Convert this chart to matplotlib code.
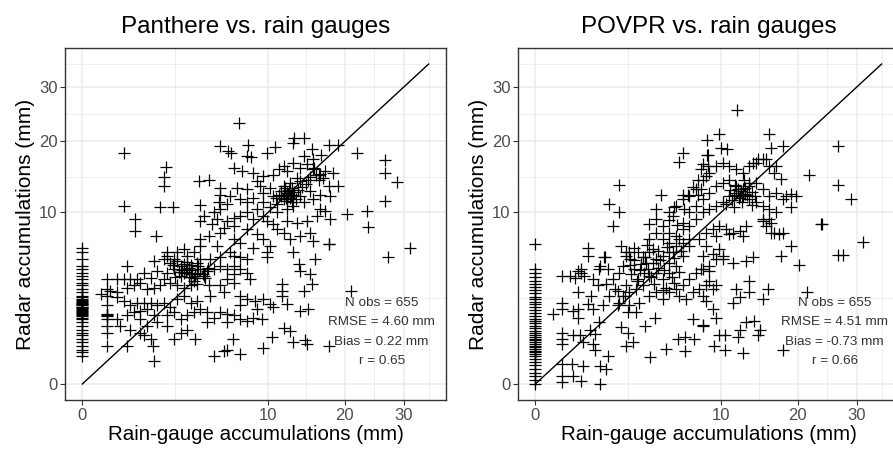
import numpy as np
import matplotlib.pyplot as plt

plt.rcParams['font.family'] = ['Liberation Sans', 'DejaVu Sans']

# (rain gauge mm, radar mm)
panthere_pts = [
    (7.1, 23.2), (0.5, 18.2), (5.5, 19.2), (6.2, 18.4), (6.4, 18.2), (8.0, 19.5), (7.9, 17.7), (8.25, 17.55),
    (9.9, 18.2), (10.8, 19.1), (13.0, 20.6), (14.2, 20.6), (12.9, 19.7), (15.3, 18.7), (16.5, 17.9),
    (17.6, 19.35), (19.0, 19.35), (21.9, 18.2), (26.6, 17.05),
    (26.6, 15.2), (28.7, 13.9), (2.04, 16.0), (1.93, 14.55), (1.93, 13.3), (3.93, 14.0), (4.64, 14.2),
    (6.65, 15.9), (7.4, 15.4), (8.5, 15.2), (9.5, 14.7), (8.85, 14.0), (10.6, 14.9), (11.2, 15.65),
    (11.75, 16.15), (12.1, 15.4), (12.9, 16.6), (13.8, 15.9), (14.6, 16.4), (15.5, 15.65), (16.2, 14.9),
    (17.1, 15.4), (18.3, 15.2), (14.8, 14.2), (13.4, 14.45), (12.5, 13.8), (11.75, 13.3), (10.25, 13.1),
    (9.2, 13.3), (7.9, 12.9), (6.9, 13.1), (5.5, 13.1), (16.2, 14.2), (17.6, 13.3), (15.5, 17.15),
    (14.2, 17.7), (19.0, 13.3),
    (26.6, 11.4), (20.3, 9.8), (23.5, 10.2), (23.7, 8.4), (1.77, 10.7), (2.39, 10.7), (0.5, 10.8),
    (4.05, 10.9), (4.28, 9.6), (4.05, 9.05), (5.0, 10.0), (5.5, 10.4), (6.07, 11.0), (5.5, 12.2),
    (6.36, 12.0), (7.24, 11.6), (7.87, 11.2), (8.5, 11.8), (9.5, 12.45), (10.6, 12.0), (11.4, 12.65),
    (12.1, 12.45), (12.5, 11.8), (12.9, 12.2), (13.8, 12.0), (11.75, 11.6), (11.0, 11.0), (10.25, 10.6),
    (9.5, 11.2), (8.85, 10.4), (7.87, 10.0), (7.24, 9.6), (6.65, 9.4), (6.07, 9.05), (5.27, 9.2),
    (8.5, 9.2), (9.5, 9.6), (11.0, 10.0), (12.1, 10.4), (12.9, 10.8), (14.2, 11.2), (15.5, 11.6),
    (16.4, 10.4), (17.1, 10.2), (17.8, 9.2), (16.0, 9.6), (14.6, 9.05), (13.4, 8.85), (12.1, 9.05),
    (10.6, 8.65), (9.9, 9.05), (15.1, 12.65), (16.4, 12.2), (17.8, 12.0), (5.4, 11.2), (4.9, 8.65),
    (0.82, 9.2), (0.82, 7.95), (1.58, 7.45), (4.0, 7.1), (4.64, 7.45), (5.5, 7.8), (6.65, 7.1),
    (5.27, 6.5), (6.36, 5.9), (7.24, 6.8), (7.87, 8.15), (8.85, 7.6), (9.5, 7.1), (10.25, 6.5),
    (11.0, 8.15), (11.75, 7.8), (12.5, 7.1), (13.8, 7.45), (15.1, 7.8), (15.5, 6.95), (17.6, 6.7),
    (31.1, 6.3), (27.2, 5.45), (8.5, 6.3), (9.9, 5.9), (12.9, 5.9), (6.65, 8.5), (5.8, 8.3),
    (3.2, 5.6), (2.6, 5.9), (2.1, 5.9), (1.93, 5.3), (3.0, 6.2), (2.43, 5.3), (3.6, 5.9), (4.05, 5.3),
    (4.76, 5.3), (5.5, 5.45), (6.65, 5.6), (7.24, 5.45), (7.87, 5.3), (9.9, 5.45), (4.05, 6.5),
    (0.585, 4.75), (1.48, 5.15), (2.1, 5.6), (2.25, 5.0), (2.43, 4.5), (2.6, 5.15), (2.8, 4.75),
    (3.0, 4.2), (3.2, 4.5), (3.4, 4.1), (3.6, 3.85), (3.8, 4.2), (4.05, 4.5), (4.28, 4.0), (4.5, 4.35),
    (2.8, 4.0), (2.1, 4.2), (1.93, 3.75), (1.63, 4.35), (1.35, 3.85), (1.1, 4.2), (0.87, 3.75),
    (0.67, 3.75), (0.5, 3.75), (0.35, 3.75), (0.18, 3.75), (0.1, 2.75), (0.23, 2.95), (0.35, 2.85),
    (0.585, 3.15), (0.77, 3.3), (0.98, 3.5), (1.22, 3.05), (1.48, 3.15), (1.77, 3.3), (2.25, 3.5),
    (2.6, 3.3), (3.0, 3.15), (3.4, 3.3), (3.8, 3.4), (5.0, 4.5), (5.5, 4.75), (6.07, 4.5), (6.65, 4.75),
    (7.24, 4.5), (7.87, 4.2), (6.07, 3.75), (6.65, 4.1), (8.2, 3.75), (4.64, 3.3), (5.5, 3.3),
    (6.65, 3.5), (4.76, 2.65), (5.8, 2.85), (7.24, 2.65),
    (17.6, 6.7), (15.7, 5.3), (13.6, 4.9), (13.8, 4.35), (15.1, 4.1), (15.3, 3.4), (14.2, 2.95),
    (11.6, 3.4), (11.6, 2.95), (11.6, 2.65), (12.1, 2.15), (10.6, 2.0), (10.25, 2.15), (9.5, 2.45),
    (8.7, 2.35), (8.85, 1.9), (8.5, 1.5), (9.4, 1.45), (13.8, 1.8), (14.8, 1.9), (11.75, 1.05),
    (12.5, 0.95), (10.4, 0.75), (9.5, 0.45), (12.9, 0.6), (14.4, 0.65), (14.6, 0.55), (17.6, 0.5),
    (0.35, 2.55), (0.5, 2.35), (0.67, 2.1), (0.87, 2.25), (1.1, 2.25), (1.35, 2.25), (0.77, 1.75),
    (0.98, 1.8), (1.22, 1.9), (1.63, 2.1), (1.93, 2.25), (2.25, 2.0), (2.6, 2.45), (3.0, 2.65),
    (3.4, 2.25), (3.8, 2.35), (0.585, 1.6), (0.35, 1.45), (0.42, 1.15), (0.67, 1.0), (0.98, 1.45),
    (1.22, 1.15), (1.48, 1.6), (2.1, 1.6), (2.43, 1.75), (2.8, 1.45), (3.2, 1.6), (3.6, 1.75),
    (4.05, 1.9), (4.5, 1.75), (5.0, 1.5), (5.5, 1.75), (6.07, 1.65), (6.65, 1.6), (7.24, 1.45),
    (7.87, 1.35), (7.24, 2.1), (7.87, 2.45), (6.07, 1.3), (4.5, 1.3), (3.2, 1.0), (2.8, 0.9),
    (2.1, 1.15), (1.63, 1.3), (2.43, 0.7), (3.7, 0.7), (1.1, 0.8), (1.48, 0.18), (5.0, 0.27),
    (6.1, 0.4), (6.55, 0.7), (7.24, 0.3), (5.8, 0.38), (0.18, 0.5), (0.585, 0.5), (0.98, 0.9),
    (1.35, 0.7), (1.43, 0.5),
    (0.18, 3.05), (0.18, 2.65), (0.18, 2.1), (0.18, 1.65), (0.18, 1.6), (0.18, 1.55), (0.18, 1.45),
    (0.18, 1.15), (0.18, 0.9),
    (3.1, 4.3), (3.3, 4.6), (3.5, 4.4), (3.7, 4.0), (2.9, 4.4), (3.0, 4.9), (3.3, 3.9), (3.9, 4.7),
    (4.2, 4.1), (2.7, 4.3), (3.6, 3.6), (4.4, 3.8), (2.5, 3.9), (3.2, 5.1), (3.8, 5.0), (2.4, 4.8),
    (4.6, 4.6), (3.4, 4.8),
    (11.5, 12.0), (12.0, 11.8), (12.3, 12.3), (11.8, 12.6), (12.6, 12.0), (13.0, 12.5), (11.2, 12.2),
    (12.2, 11.4), (12.8, 13.1), (13.5, 12.8), (11.9, 13.0), (12.4, 12.8), (10.9, 11.8), (13.2, 11.6),
    (12.7, 11.2), (14.0, 13.2), (13.7, 14.0), (14.5, 13.6), (15.0, 14.5), (15.8, 14.8), (16.4, 15.0),
    (16.8, 14.4), (15.6, 15.8),
    (21.0, 2.95),
]
# radar values where the gauge recorded 0 mm
panthere_zero = [6.25, 5.9, 5.3, 4.75, 4.5, 4.2, 4.0, 3.75, 3.5, 3.3, 3.05, 2.85, 2.65, 2.55, 2.45, 2.35,
                 2.25, 2.15, 2.1, 2.0, 1.9, 1.8, 1.75, 1.65, 1.6, 1.5, 1.45, 1.3, 1.15, 1.0, 0.9, 0.8,
                 0.7, 0.6, 0.5, 0.4, 0.34, 0.27, 2.2, 2.0, 1.85, 1.7, 1.55, 2.3, 2.4, 1.95]

# (rain gauge mm, radar mm)
povpr_pts = [
    (11.8, 25.5), (9.8, 21.3), (8.6, 20.2), (10.0, 19.0), (10.7, 18.7), (15.8, 21.2), (16.1, 19.0),
    (17.8, 19.2), (26.6, 19.2), (6.3, 18.2), (6.0, 16.7), (2.02, 13.5), (1.59, 11.0), (2.02, 10.0),
    (1.77, 8.5), (21.8, 14.9), (26.6, 13.5), (28.95, 11.6), (31.1, 6.9), (26.6, 5.7), (27.5, 5.7),
    (23.7, 8.65), (23.9, 8.7), (20.25, 4.8), (19.0, 6.5), (17.5, 5.6), (19.0, 10.6), (19.0, 12.3),
    (17.5, 14.35), (16.8, 16.15), (15.5, 17.15), (14.4, 17.15), (13.7, 16.6), (8.6, 17.9),
    (21.4, 2.85), (17.8, 0.4), (12.5, 0.33), (10.4, 0.4), (9.3, 0.5), (1.2, 0.0), (0.8, 6.25),
    (4.6, 12.2), (4.2, 10.4), (3.78, 8.65), (6.3, 12.2), (6.8, 12.2), (6.45, 10.4), (5.6, 10.6),
    (5.5, 9.6), (5.8, 8.6), (5.15, 9.1), (7.25, 13.25), (7.7, 14.2), (8.0, 15.65), (8.2, 16.4),
    (8.7, 17.9), (8.7, 16.1), (8.5, 14.65), (8.0, 12.9), (7.7, 12.2),
    (0.2, 4.0), (0.34, 4.0), (0.53, 4.35), (0.61, 4.2), (0.45, 3.85), (0.09, 1.65), (0.2, 1.9),
    (0.2, 2.25), (0.53, 2.85), (0.53, 1.9), (0.53, 1.5), (0.41, 1.8), (0.2, 0.9), (0.2, 0.7),
    (0.2, 0.55), (0.41, 0.8), (0.57, 0.8), (0.66, 0.6), (0.91, 2.65), (0.8, 2.15), (0.97, 1.9),
    (1.02, 0.85), (0.97, 0.55), (1.02, 0.4), (0.86, 1.0), (0.2, 0.135), (0.38, 0.135), (0.2, 0.02),
    (0.41, 0.02), (0.61, 0.004), (0.2, 0.001), (0.66, 0.11), (1.2, 0.11), (1.46, 0.08), (1.53, 0.27),
    (0.7, 4.0), (0.95, 3.75), (1.13, 3.3), (0.8, 5.6), (1.38, 5.5), (1.19, 4.5), (0.61, 4.5),
    (1.4, 5.45), (1.2, 4.75), (1.53, 4.5), (2.15, 6.5), (2.4, 5.9), (2.58, 5.3), (1.83, 3.05),
    (2.32, 2.65), (1.99, 2.1), (2.49, 1.75), (2.15, 1.09), (2.5, 0.9), (2.4, 0.5), (2.77, 0.59),
    (3.47, 1.15), (4.14, 1.5), (3.8, 0.24), (4.98, 0.41), (5.9, 0.69), (6.48, 0.74), (6.48, 0.38),
    (7.2, 1.43), (8.17, 1.15), (7.35, 0.69), (2.94, 1.75), (1.59, 2.65), (1.32, 2.1), (1.19, 1.3),
    (1.45, 3.4), (1.74, 3.75), (2.05, 4.2), (2.22, 4.75), (2.39, 5.6), (2.57, 5.9), (2.85, 6.3),
    (3.04, 5.9), (3.35, 5.45), (3.56, 5.0), (3.78, 5.9), (4.0, 6.2), (4.23, 5.3), (4.71, 5.6),
    (5.22, 5.9), (5.75, 6.5), (6.03, 7.1), (6.31, 6.8), (6.89, 7.1), (6.31, 5.6), (5.75, 4.75),
    (5.22, 4.2), (4.71, 3.75), (4.23, 4.2), (3.78, 4.0), (3.35, 3.3), (2.94, 3.05), (2.57, 2.85),
    (2.22, 2.65), (1.97, 2.95), (2.05, 2.25), (2.57, 2.1), (3.14, 2.25), (3.78, 2.65), (4.23, 2.85),
    (4.71, 2.45), (5.22, 2.85), (5.75, 3.05), (6.31, 3.3), (6.89, 3.75), (7.5, 4.2), (8.14, 4.5),
    (8.8, 4.75), (9.48, 5.3), (10.2, 5.6), (2.66, 4.1), (3.04, 3.75), (3.45, 4.2), (4.35, 4.6),
    (4.96, 3.15), (5.61, 3.5), (6.03, 2.65), (6.6, 2.45), (7.19, 2.85), (7.81, 3.05), (8.46, 3.3),
    (9.14, 3.05), (2.39, 3.3), (2.85, 4.5), (3.24, 4.9), (3.67, 4.5),
    (4.23, 9.2), (4.71, 8.5), (5.22, 10.0), (5.75, 10.8), (6.31, 11.6), (6.89, 12.0), (7.5, 12.9),
    (8.14, 14.2), (8.8, 15.2), (9.48, 16.15), (10.2, 16.6), (10.9, 16.15), (11.7, 15.65), (12.5, 15.2),
    (13.3, 16.15), (14.15, 16.6), (15.0, 17.15), (15.9, 16.15), (16.6, 15.2), (6.31, 8.85),
    (6.89, 10.0), (7.5, 10.8), (8.14, 11.6), (8.8, 12.45), (9.48, 13.3), (10.2, 13.8), (10.9, 14.2),
    (11.7, 13.3), (12.5, 12.9), (13.3, 13.3), (14.15, 13.8), (15.0, 12.9), (15.9, 12.0), (16.8, 12.45),
    (17.8, 11.6), (18.3, 12.0), (5.22, 7.8), (5.75, 7.45), (6.31, 8.15), (6.89, 8.5), (7.5, 9.2),
    (8.14, 10.0), (8.8, 10.4), (9.48, 10.8), (10.2, 11.2), (10.9, 12.0), (11.7, 12.45), (12.5, 12.0),
    (13.3, 11.6), (14.15, 11.2), (15.0, 10.8), (15.9, 10.4), (16.8, 10.0), (4.23, 7.8), (3.78, 7.1),
    (4.71, 7.1), (5.22, 6.8), (6.89, 6.5), (7.81, 7.1), (8.46, 7.8), (9.14, 8.15), (9.84, 8.5),
    (10.56, 8.15), (11.3, 7.8), (12.1, 7.95), (12.9, 8.5), (15.0, 9.05), (15.5, 8.5), (16.1, 8.85),
    (16.6, 7.8), (17.8, 7.8), (15.0, 9.2), (15.9, 9.2), (19.7, 12.0),
    (9.48, 7.45), (10.9, 7.6), (12.5, 7.45), (16.1, 7.8), (17.3, 7.6), (8.46, 6.5), (9.84, 6.2),
    (8.14, 5.6), (9.14, 5.75), (10.2, 5.3), (11.3, 5.0), (12.9, 5.15), (13.7, 5.45), (7.97, 4.5),
    (8.8, 4.35),
    (11.5, 12.2), (12.0, 11.8), (12.3, 12.6), (11.9, 12.9), (12.7, 12.3), (11.2, 11.5), (12.4, 11.3),
    (13.0, 12.2), (11.6, 13.4), (12.8, 13.0), (13.6, 12.5), (12.1, 12.0), (11.0, 12.8), (13.2, 13.8),
    (12.6, 14.1), (14.0, 12.0), (10.6, 11.0), (11.4, 10.6), (13.6, 10.9),
    (13.3, 3.6), (15.7, 3.05), (8.8, 3.6), (9.48, 3.3), (11.7, 3.05), (13.3, 2.85), (15.0, 2.45),
    (11.3, 2.25), (12.1, 2.55), (8.14, 2.65), (8.46, 2.35), (9.14, 1.9), (9.48, 1.5), (8.14, 1.2),
    (12.9, 1.3), (13.9, 1.35), (14.6, 1.0), (14.4, 0.8), (12.1, 1.0), (11.9, 0.75), (9.84, 0.8),
    (10.4, 0.8),
    (3.5, 5.5), (4.0, 5.0), (4.5, 5.2), (3.2, 4.4), (3.9, 3.9), (4.8, 4.4), (5.2, 5.0), (5.6, 5.4),
    (2.8, 5.2), (3.6, 6.6), (4.4, 6.0), (5.0, 6.4), (5.5, 5.9), (6.2, 6.0), (2.6, 4.8), (3.0, 3.6),
    (4.1, 3.4), (4.7, 3.0), (5.4, 3.9), (6.0, 4.3),
]
povpr_zero = [6.7, 4.5, 4.2, 3.9, 3.6, 3.4, 3.2, 3.0, 2.8, 2.6, 2.45, 2.3, 2.15, 2.0, 1.85, 1.7, 1.55,
              1.45, 1.35, 1.25, 1.15, 1.05, 0.95, 0.88, 0.82, 0.76, 0.7, 0.65, 0.6, 0.55, 0.5, 0.46,
              0.42, 0.38, 0.34, 0.3, 0.27, 0.22, 0.17, 0.12, 0.08, 0.04, 0.02, 0.005, 0.0]

titles = ['Panthere vs. rain gauges', 'POVPR vs. rain gauges']
stats = [('655', '4.60', '0.22', '0.65'), ('655', '4.51', '-0.73', '0.66')]
major_ticks = [0, 10, 20, 30]
minor_ticks = [2.5, 14.57, 24.75, 34.8]
line_end = 34.8


def fwd(v):
    return np.sign(v) * np.sqrt(np.abs(v))


def inv(v):
    return np.sign(v) * v ** 2


fig = plt.figure(figsize=(8.93, 4.5), dpi=100)
positions = [[65 / 893, 50 / 450, 381 / 893, 352 / 450],
             [518 / 893, 50 / 450, 381 / 893, 352 / 450]]

for pos, title, pts, zero, st in zip(positions, titles, [panthere_pts, povpr_pts],
                                     [panthere_zero, povpr_zero], stats):
    ax = fig.add_axes(pos)
    ax.set_xscale('function', functions=(fwd, inv))
    ax.set_yscale('function', functions=(fwd, inv))
    gauge = [p[0] for p in pts] + [0.0] * len(zero)
    radar = [p[1] for p in pts] + list(zero)

    ax.plot(gauge, radar, linestyle='none', marker='+', color='black',
            markersize=8.5, markeredgewidth=0.9, clip_on=False)
    ax.plot([0, line_end], [0, line_end], color='black', lw=1.0)

    ax.set_xlim(-0.087, 38.38)
    ax.set_ylim(-0.087, 38.38)
    ax.set_xticks(major_ticks)
    ax.set_yticks(major_ticks)
    ax.set_xticks(minor_ticks, minor=True)
    ax.set_yticks(minor_ticks, minor=True)
    ax.grid(which='major', color='#EBEBEB', lw=1.1)
    ax.grid(which='minor', color='#EBEBEB', lw=0.6)
    ax.set_axisbelow(True)
    ax.tick_params(which='major', length=3.5, width=0.8, color='#333333',
                   labelcolor='#4D4D4D', labelsize=12, pad=2)
    ax.tick_params(which='minor', length=0)
    for s in ax.spines.values():
        s.set_color('#333333')
        s.set_linewidth(1.0)

    ax.set_title(title, fontsize=17.5, pad=11)
    ax.set_xlabel('Rain-gauge accumulations (mm)', fontsize=14.8, labelpad=2)
    ax.set_ylabel('Radar accumulations (mm)', fontsize=15, labelpad=3)

    txt = 'N obs = {}\nRMSE = {} mm\nBias = {} mm\nr = {}'.format(*st)
    ax.text(26.0, 0.92, txt, ha='center', va='center', fontsize=9.7,
            color='#333333', linespacing=1.8)

fig.savefig('out.png', dpi=100)
